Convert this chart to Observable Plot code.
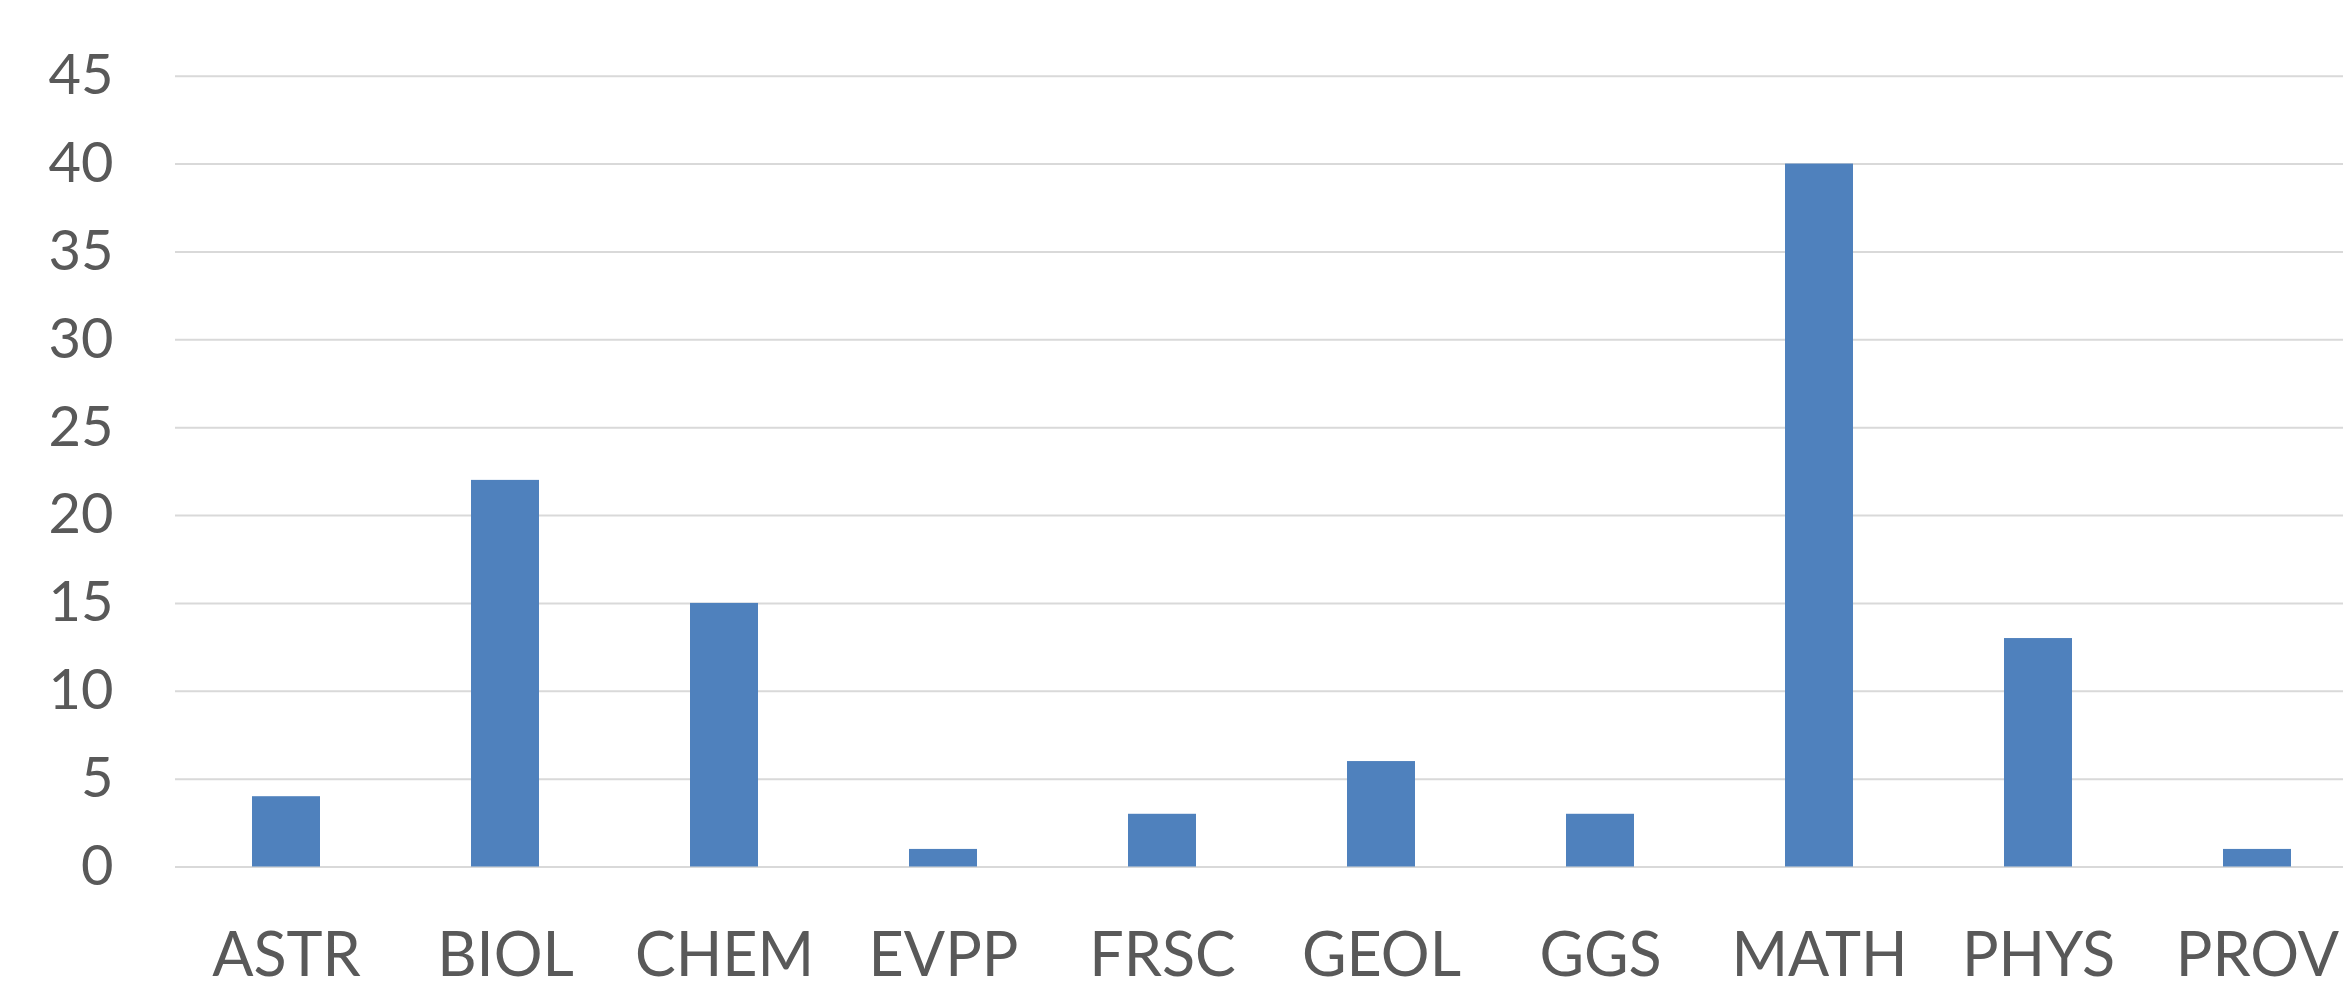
<!DOCTYPE html>
<html>
<head>
<meta charset="utf-8">
<script src="https://cdn.jsdelivr.net/npm/d3@7"></script>
<script src="https://cdn.jsdelivr.net/npm/@observablehq/plot@0.6"></script>
<style>
  html, body { margin: 0; padding: 0; background: #ffffff; overflow: hidden; }
  #chart svg { display: block; }
</style>
</head>
<body>
<div id="chart"></div>
<script>
const departments = ["ASTR", "BIOL", "CHEM", "EVPP", "FRSC", "GEOL", "GGS", "MATH", "PHYS", "PROV"];
const counts = [4, 22, 15, 1, 3, 6, 3, 40, 13, 1];
const yTicks = [0, 5, 10, 15, 20, 25, 30, 35, 40, 45];

const data = departments.map((d, i) => ({dept: d, value: counts[i]}));

const chart = Plot.plot({
  width: 2343,
  height: 989,
  marginLeft: 175,
  marginRight: 0,
  marginTop: 75.7,
  marginBottom: 122.5,
  style: {background: "#ffffff", color: "#595959", fontFamily: "Lato, 'Open Sans', sans-serif", overflow: "hidden"},
  x: {type: "band", domain: departments, range: [175, 2368], paddingInner: 0.6875, paddingOuter: 0.34375},
  y: {domain: [0, 45]},
  marks: [
    Plot.gridY(yTicks, {stroke: "#D9D9D9", strokeOpacity: 1, strokeWidth: 2}),
    Plot.barY(data, {x: "dept", y: "value", fill: "#4F81BD"}),
    Plot.axisY(yTicks, {tickSize: 0, tickPadding: 62, fontSize: 56, label: null}),
    Plot.axisX({tickSize: 0, tickPadding: 66, fontSize: 61, label: null})
  ]
});
document.getElementById("chart").appendChild(chart);
</script>
</body>
</html>
